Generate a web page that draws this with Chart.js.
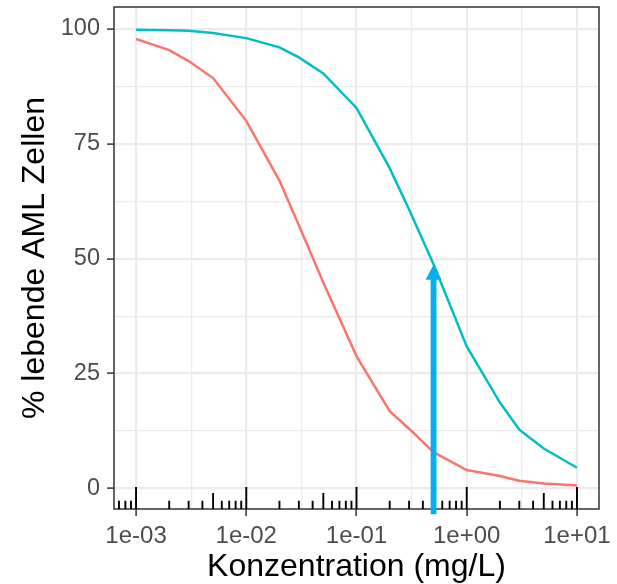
<!DOCTYPE html>
<html>
<head>
<meta charset="utf-8">
<script src="https://cdn.jsdelivr.net/npm/chart.js@4.4.1/dist/chart.umd.min.js"></script>
<style>
  html, body { margin: 0; padding: 0; background: #ffffff; }
  #wrap { width: 617px; height: 584px; }
</style>
</head>
<body>
<div id="wrap"><canvas id="chart" width="617" height="584"></canvas></div>
<script>
"use strict";

// concentrations (mg/L)
var doses = [0.001, 0.002, 0.003, 0.005, 0.01, 0.02, 0.03, 0.05, 0.1, 0.2, 0.3, 0.5, 1, 2, 3, 5, 10];
// % living AML cells, red curve
var redViability = [97.8, 95.4, 93.0, 89.3, 80.0, 67.0, 57.3, 44.8, 28.8, 16.8, 13.0, 7.9, 4.0, 2.7, 1.7, 1.1, 0.65];
// % living AML cells, cyan curve
var cyanViability = [99.8, 99.7, 99.6, 99.1, 98.0, 96.0, 93.8, 90.3, 82.8, 69.7, 60.7, 48.8, 30.9, 18.7, 12.8, 8.7, 4.5];

// tick labels
var xTickValues = [0.001, 0.01, 0.1, 1, 10];
var xTickLabels = ["1e-03", "1e-02", "1e-01", "1e+00", "1e+01"];
var yTickValues = [0, 25, 50, 75, 100];
var yTickLabels = ["0", "25", "50", "75", "100"];

// log tick multipliers inside the panel (annotation_logticks style)
var logTickSteps = [1, 2, 3, 4, 5, 6, 7, 8, 9];

// blue arrow marking the IC50 of the cyan curve
var arrowDose = [0.5];
var arrowFrom = [-5.6];
var arrowTo = [48.7];

var FONT = "'Liberation Sans', Arial, sans-serif";

function same(a, b) {
	return Math.abs(a - b) <= Math.abs(b) * 1e-6;
}
function isMajorX(v) {
	return xTickValues.some(function(t) { return same(v, t); });
}
function isMajorY(v) {
	return yTickValues.indexOf(v) >= 0;
}

// grid values: majors plus the half-way minors
var xGridValues = [];
xTickValues.forEach(function(v, i) {
	xGridValues.push(v);
	if (i < xTickValues.length - 1) xGridValues.push(v * Math.sqrt(10));
});
var yGridValues = [];
yTickValues.forEach(function(v, i) {
	yGridValues.push(v);
	if (i < yTickValues.length - 1) yGridValues.push((v + yTickValues[i + 1]) / 2);
});

function toPoints(ys) {
	return doses.map(function(d, i) { return { x: d, y: ys[i] }; });
}

// panel border, log ticks and the arrow on top of the curves
var panelExtras = {
	id: "panelExtras",
	afterDatasetsDraw: function(chart) {
		var ctx = chart.ctx, a = chart.chartArea;
		var xs = chart.scales.x, ys = chart.scales.y;
		ctx.save();

		// panel border
		ctx.strokeStyle = "#333333";
		ctx.lineWidth = 1.5;
		ctx.strokeRect(a.left, a.top, a.right - a.left, a.bottom - a.top);

		// log ticks along the bottom
		ctx.strokeStyle = "#000000";
		ctx.lineWidth = 1.9;
		ctx.beginPath();
		for (var d = -4; d <= 1; d++) {
			logTickSteps.forEach(function(k) {
				var v = k * Math.pow(10, d);
				if (v < xs.min || v > xs.max) return;
				var len = k === 1 ? 22 : (k === 5 ? 16 : 8.3);
				var px = xs.getPixelForValue(v);
				ctx.moveTo(px, a.bottom);
				ctx.lineTo(px, a.bottom - len);
			});
		}
		ctx.stroke();

		// arrow
		var ax = xs.getPixelForValue(arrowDose[0]);
		var y0 = ys.getPixelForValue(arrowFrom[0]);
		var y1 = ys.getPixelForValue(arrowTo[0]);
		var headLen = 15, headW = 16;
		ctx.fillStyle = "#00B0F0";
		ctx.fillRect(ax - 2.9, y1 + headLen - 1, 5.8, y0 - y1 - headLen + 1);
		ctx.beginPath();
		ctx.moveTo(ax, y1);
		ctx.lineTo(ax + headW / 2, y1 + headLen);
		ctx.lineTo(ax - headW / 2, y1 + headLen);
		ctx.closePath();
		ctx.fill();

		ctx.restore();
	}
};

var ctx = document.getElementById("chart").getContext("2d");
var doseChart = new Chart(ctx, {
	type: "scatter",
	data: {
		datasets: [
			{
				label: "red",
				data: toPoints(redViability),
				showLine: true,
				borderColor: "#F8766D",
				borderWidth: 2.5,
				pointRadius: 0,
				tension: 0
			},
			{
				label: "cyan",
				data: toPoints(cyanViability),
				showLine: true,
				borderColor: "#00BFC4",
				borderWidth: 2.5,
				pointRadius: 0,
				tension: 0
			}
		]
	},
	options: {
		responsive: false,
		animation: false,
		layout: { padding: { left: 0, right: 18, top: 7, bottom: 0 } },
		plugins: {
			legend: { display: false },
			tooltip: { enabled: false }
		},
		scales: {
			x: {
				type: "logarithmic",
				bounds: "data",
				min: Math.pow(10, -3.2),
				max: Math.pow(10, 1.2),
				afterBuildTicks: function(scale) {
					scale.ticks = xGridValues.map(function(v) { return { value: v }; });
				},
				afterFit: function(scale) {
					scale.height = 75;
					scale.paddingLeft = 0;
					scale.paddingRight = 0;
				},
				border: { display: false },
				grid: {
					color: "#EBEBEB",
					lineWidth: function(c) { return c.tick && isMajorX(c.tick.value) ? 2.2 : 1.2; },
					tickColor: function(c) { return c.tick && isMajorX(c.tick.value) ? "#333333" : "rgba(0,0,0,0)"; },
					tickWidth: 1.5,
					tickLength: 7
				},
				ticks: {
					autoSkip: false,
					maxRotation: 0,
					padding: 6,
					color: "#4D4D4D",
					font: { family: FONT, size: 24 },
					callback: function(v) {
						for (var i = 0; i < xTickValues.length; i++) {
							if (same(v, xTickValues[i])) return xTickLabels[i];
						}
						return "";
					}
				},
				title: {
					display: true,
					text: "Konzentration (mg/L)",
					color: "#000000",
					font: { family: FONT, size: 32, lineHeight: 1 },
					padding: { top: 0, bottom: 1 }
				}
			},
			y: {
				type: "linear",
				bounds: "data",
				min: -4.47,
				max: 104.77,
				afterBuildTicks: function(scale) {
					scale.ticks = yGridValues.map(function(v) { return { value: v }; });
				},
				afterFit: function(scale) {
					scale.width = 114;
					scale.paddingTop = 0;
					scale.paddingBottom = 0;
				},
				border: { display: false },
				grid: {
					color: "#EBEBEB",
					lineWidth: function(c) { return c.tick && isMajorY(c.tick.value) ? 2.2 : 1.2; },
					tickColor: function(c) { return c.tick && isMajorY(c.tick.value) ? "#333333" : "rgba(0,0,0,0)"; },
					tickWidth: 1.5,
					tickLength: 7
				},
				ticks: {
					autoSkip: false,
					padding: 7,
					color: "#4D4D4D",
					font: { family: FONT, size: 23.5 },
					callback: function(v) {
						var i = yTickValues.indexOf(v);
						return i >= 0 ? yTickLabels[i] : "";
					}
				},
				title: {
					display: true,
					text: "% lebende AML Zellen",
					color: "#000000",
					font: { family: FONT, size: 32, lineHeight: 1 },
					padding: { top: 19, bottom: 0 }
				}
			}
		}
	},
	plugins: [panelExtras]
});
</script>
</body>
</html>
